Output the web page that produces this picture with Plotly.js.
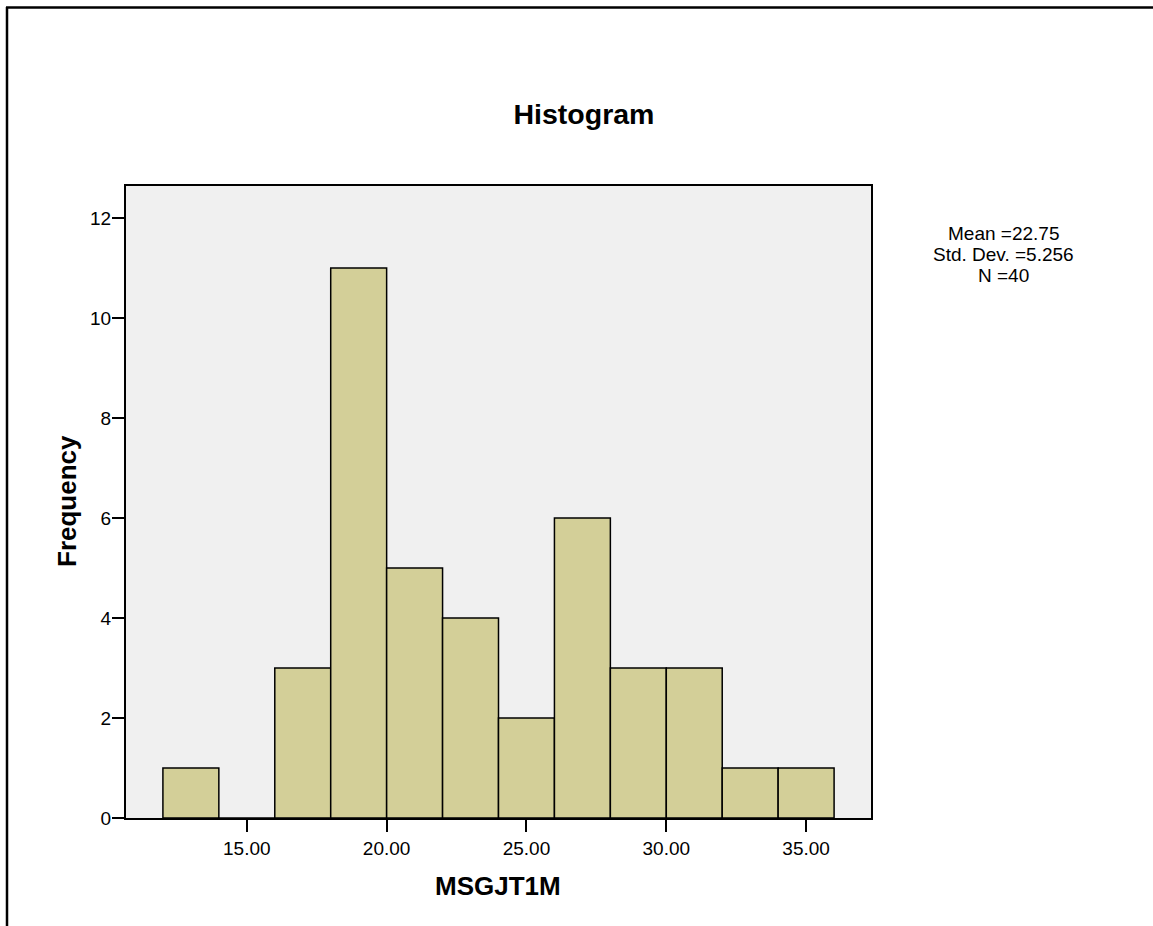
<!DOCTYPE html>
<html>
<head>
<meta charset="utf-8">
<script src="https://cdn.plot.ly/plotly-3.0.1.min.js"></script>
<style>html,body{margin:0;padding:0;background:#fff;}#chart{width:1153px;height:926px;}</style>
</head>
<body>
<div id="chart"></div>
<script>
// Histogram bins (lower edges) and frequencies
const binLower = [12, 14, 16, 18, 20, 22, 24, 26, 28, 30, 32, 34];
const binWidth = 2;
const frequency = [1, 0, 3, 11, 5, 4, 2, 6, 3, 3, 1, 1];
const xTickVals = [15, 20, 25, 30, 35];
const yTickVals = [0, 2, 4, 6, 8, 10, 12];
const statsLines = ["Mean =22.75", "Std. Dev. =5.256", "N =40"];
const chartTitle = "Histogram";
const xTitle = "MSGJT1M";
const yTitle = "Frequency";

const FONT = "Arial, 'Liberation Sans', sans-serif";

// plot area in pixels
const L = 126, R = 871, T = 186, B = 818, W = 1153, H = 926;
const px2x = p => (p - L) / (R - L);
const py2y = p => (B - p) / (B - T);

const trace = {
  type: 'bar',
  x: binLower,
  y: frequency,
  width: binLower.map(() => binWidth),
  offset: 0,
  marker: { color: '#d3cf98', line: { color: '#000', width: 1.5 } },
  hoverinfo: 'x+y'
};

const annotations = [
  { text: '<b>' + xTitle + '</b>', xref: 'paper', yref: 'paper', x: px2x(498), y: py2y(886), xanchor: 'center', yanchor: 'middle', showarrow: false, font: { family: FONT, size: 26, color: '#000' } },
  { text: '<b>' + yTitle + '</b>', xref: 'paper', yref: 'paper', x: px2x(67), y: py2y(501), xanchor: 'center', yanchor: 'middle', textangle: -90, showarrow: false, font: { family: FONT, size: 26, color: '#000' } }
];
statsLines.forEach((s, i) => {
  annotations.push({ text: s, xref: 'paper', yref: 'paper', x: px2x(1004), y: py2y(234 + i * 20.5), xanchor: 'center', yanchor: 'middle', showarrow: false, font: { family: FONT, size: 19, color: '#000' } });
});

const layout = {
  width: W, height: H,
  margin: { l: L, r: W - R, t: T, b: H - B, pad: 0 },
  paper_bgcolor: '#ffffff',
  plot_bgcolor: '#f0f0f0',
  showlegend: false,
  bargap: 0,
  font: { family: FONT, color: '#000' },
  title: { text: '<b>' + chartTitle + '</b>', x: 584 / W, xanchor: 'center', y: 1 - 114 / H, yanchor: 'middle', font: { family: FONT, size: 28.5, color: '#000' } },
  xaxis: {
    range: [10.68, 37.32], tickvals: xTickVals, ticktext: xTickVals.map(v => v.toFixed(2)),
    ticks: 'outside', ticklen: 12, tickwidth: 2, tickcolor: '#000',
    showline: true, mirror: true, linecolor: '#000', linewidth: 2,
    showgrid: false, zeroline: false, tickfont: { family: FONT, size: 19, color: '#000' }
  },
  yaxis: {
    range: [0, 12.64], tickvals: yTickVals,
    ticks: 'outside', ticklen: 12, tickwidth: 2, tickcolor: '#000',
    showline: true, mirror: true, linecolor: '#000', linewidth: 2,
    showgrid: false, zeroline: false, ticklabelstandoff: -3,
    tickfont: { family: FONT, size: 19, color: '#000' }
  },
  annotations: annotations,
  shapes: [
    { type: 'line', xref: 'paper', yref: 'paper', x0: px2x(7), x1: px2x(7), y0: py2y(7), y1: py2y(930), line: { color: '#000', width: 2.5 } },
    { type: 'line', xref: 'paper', yref: 'paper', x0: px2x(6), x1: px2x(1160), y0: py2y(7.5), y1: py2y(7.5), line: { color: '#000', width: 2.5 } }
  ]
};

Plotly.newPlot('chart', [trace], layout, { displayModeBar: false, staticPlot: true });
</script>
</body>
</html>
